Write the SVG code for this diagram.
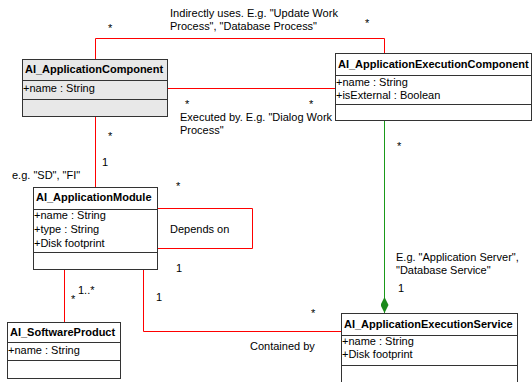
<svg xmlns="http://www.w3.org/2000/svg" width="532" height="382" viewBox="0 0 532 382">
  <style>
    .box { fill: #ffffff; stroke: #333333; stroke-width: 1; }
    .box.shaded { fill: #e8e8e8; }
    .sep { stroke: #333333; stroke-width: 1; fill: none; }
    .title { font-family: "Liberation Sans", Arial, sans-serif; font-size: 11px; font-weight: bold; fill: #000; }
    .attr, .lbl { font-family: "Liberation Sans", Arial, sans-serif; font-size: 11px; fill: #000; }
    .assoc { stroke: #ff0000; stroke-width: 1; fill: none; }
    .comp { stroke: #1a9a1a; stroke-width: 1; fill: none; }
  </style>
  <defs>
    <marker id="diamond" viewBox="0 0 16 8" refX="16" refY="4" markerWidth="16" markerHeight="8" markerUnits="userSpaceOnUse" orient="auto">
      <path d="M0,4 L8,0 L16,4 L8,8 Z" fill="#1a8a1a"/>
    </marker>
  </defs>

  <rect width="532" height="382" fill="#ffffff"/>

  <!-- connectors -->
  <g id="connectors">
    <!-- indirectly uses -->
    <polyline class="assoc" points="95.5,59 95.5,38.5 384.5,38.5 384.5,53"/>
    <!-- executed by -->
    <line class="assoc" x1="167.5" y1="88.5" x2="335.5" y2="88.5"/>
    <!-- component to module -->
    <line class="assoc" x1="95.5" y1="116.5" x2="95.5" y2="187.5"/>
    <!-- depends on (self loop) -->
    <polyline class="assoc" points="157.5,208.5 252.5,208.5 252.5,248.5 157.5,248.5"/>
    <!-- module to software product -->
    <line class="assoc" x1="64.5" y1="269.5" x2="64.5" y2="322.5"/>
    <!-- contained by -->
    <polyline class="assoc" points="143.5,269.5 143.5,331.5 341.5,331.5"/>
    <!-- composition: execution component owns execution service -->
    <line class="comp" x1="384.5" y1="120.5" x2="384.5" y2="313" marker-end="url(#diamond)"/>

    <text class="lbl" x="170" y="17" textLength="168" lengthAdjust="spacingAndGlyphs">Indirectly uses. E.g. "Update Work</text>
    <text class="lbl" x="170" y="30" textLength="147" lengthAdjust="spacingAndGlyphs">Process", "Database Process"</text>
    <text class="lbl" x="108" y="32">*</text>
    <text class="lbl" x="365" y="27">*</text>

    <text class="lbl" x="185" y="108">*</text>
    <text class="lbl" x="309" y="108">*</text>
    <text class="lbl" x="180" y="121">Executed by. E.g. "Dialog Work</text>
    <text class="lbl" x="180" y="134">Process"</text>

    <text class="lbl" x="108" y="140">*</text>
    <text class="lbl" x="102" y="166">1</text>
    <text class="lbl" x="12" y="179">e.g. "SD", "FI"</text>

    <text class="lbl" x="176" y="190">*</text>
    <text class="lbl" x="170" y="233">Depends on</text>
    <text class="lbl" x="176" y="272">1</text>

    <text class="lbl" x="71" y="303">*</text>
    <text class="lbl" x="78" y="294">1..*</text>

    <text class="lbl" x="156" y="301">1</text>
    <text class="lbl" x="311" y="317">*</text>
    <text class="lbl" x="250" y="350">Contained by</text>

    <text class="lbl" x="397" y="150">*</text>
    <text class="lbl" x="396" y="261">E.g. "Application Server",</text>
    <text class="lbl" x="396" y="274">"Database Service"</text>
    <text class="lbl" x="398" y="292">1</text>
  </g>

  <!-- classes -->
  <g id="AI_ApplicationComponent">
    <rect class="box shaded" x="22.5" y="59.5" width="145" height="57"/>
    <line class="sep" x1="22.5" y1="80.5" x2="167.5" y2="80.5"/>
    <line class="sep" x1="22.5" y1="99.5" x2="167.5" y2="99.5"/>
    <text class="title" x="25" y="73">AI_ApplicationComponent</text>
    <text class="attr" x="23" y="92">+name : String</text>
  </g>

  <g id="AI_ApplicationExecutionComponent">
    <rect class="box" x="335.5" y="53.5" width="196" height="67"/>
    <line class="sep" x1="335.5" y1="75.5" x2="531.5" y2="75.5"/>
    <line class="sep" x1="335.5" y1="104.5" x2="531.5" y2="104.5"/>
    <text class="title" x="338" y="68">AI_ApplicationExecutionComponent</text>
    <text class="attr" x="336" y="86">+name : String</text>
    <text class="attr" x="336" y="99">+isExternal : Boolean</text>
  </g>

  <g id="AI_ApplicationModule">
    <rect class="box" x="33.5" y="187.5" width="124" height="82"/>
    <line class="sep" x1="33.5" y1="209.5" x2="157.5" y2="209.5"/>
    <line class="sep" x1="33.5" y1="252.5" x2="157.5" y2="252.5"/>
    <text class="title" x="36" y="201">AI_ApplicationModule</text>
    <text class="attr" x="34" y="219">+name : String</text>
    <text class="attr" x="34" y="233">+type : String</text>
    <text class="attr" x="34" y="247">+Disk footprint</text>
  </g>

  <g id="AI_SoftwareProduct">
    <rect class="box" x="7.5" y="322.5" width="113" height="56"/>
    <line class="sep" x1="7.5" y1="342.5" x2="120.5" y2="342.5"/>
    <line class="sep" x1="7.5" y1="360.5" x2="120.5" y2="360.5"/>
    <text class="title" x="10" y="336">AI_SoftwareProduct</text>
    <text class="attr" x="8" y="354">+name : String</text>
  </g>

  <g id="AI_ApplicationExecutionService">
    <rect class="box" x="341.5" y="313.5" width="176" height="80"/>
    <line class="sep" x1="341.5" y1="335.5" x2="517.5" y2="335.5"/>
    <line class="sep" x1="341.5" y1="365.5" x2="517.5" y2="365.5"/>
    <text class="title" x="344" y="328">AI_ApplicationExecutionService</text>
    <text class="attr" x="342" y="345">+name : String</text>
    <text class="attr" x="342" y="358">+Disk footprint</text>
  </g>
</svg>
